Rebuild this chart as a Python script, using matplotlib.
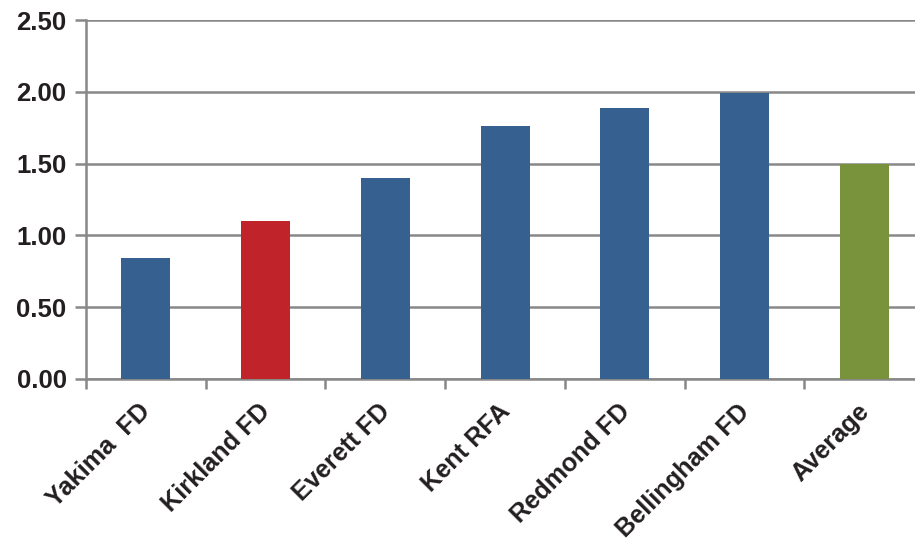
import matplotlib.pyplot as plt

# Datos del grafico
categorias = ['Yakima  FD', 'Kirkland FD', 'Everett FD', 'Kent RFA',
              'Redmond FD', 'Bellingham FD', 'Average']
valores = [0.84, 1.10, 1.40, 1.76, 1.89, 1.99, 1.50]
colores = ['#36608F', '#C0232A', '#36608F', '#36608F',
           '#36608F', '#36608F', '#78933B']
yticks = [0.0, 0.5, 1.0, 1.5, 2.0, 2.5]

plt.rcParams['font.family'] = ['Liberation Sans', 'DejaVu Sans']

fig = plt.figure(figsize=(9.15, 5.45), dpi=100)
ax = fig.add_axes([0.094, 0.3046, 0.916, 0.6586])

x = list(range(len(categorias)))
ax.bar(x, valores, width=0.41, color=colores, zorder=3)

ax.set_xlim(-0.5, len(categorias) - 0.5)
ax.set_ylim(0, 2.5)
ax.set_yticks(yticks)
ax.set_yticklabels(['%.2f' % v for v in yticks], fontsize=18.5,
                   fontweight='bold', color='#231F20')

# Lineas de cuadricula horizontales
ax.grid(axis='y', color='#888888', linewidth=1.8, zorder=0)
ax.set_axisbelow(True)

# Marcas entre categorias y etiquetas giradas
ax.set_xticks([i - 0.5 for i in range(len(categorias) + 1)])
ax.set_xticklabels([])
ax.set_xticks([i + 0.05 for i in x], minor=True)
ax.set_xticklabels(categorias, minor=True, rotation=45, ha='right',
                   va='baseline', rotation_mode='anchor', fontsize=18.2,
                   fontweight='bold', color='#231F20')
ax.tick_params(axis='x', which='major', direction='out', length=7,
               width=1.8, color='#888888')
ax.tick_params(axis='x', which='minor', length=0, pad=24.5)
ax.tick_params(axis='y', direction='out', length=8, width=1.8,
               color='#888888', pad=6)

for lado in ['top', 'right']:
    ax.spines[lado].set_visible(False)
for lado in ['left', 'bottom']:
    ax.spines[lado].set_color('#888888')
    ax.spines[lado].set_linewidth(1.8)

plt.savefig('out.png', dpi=100)
